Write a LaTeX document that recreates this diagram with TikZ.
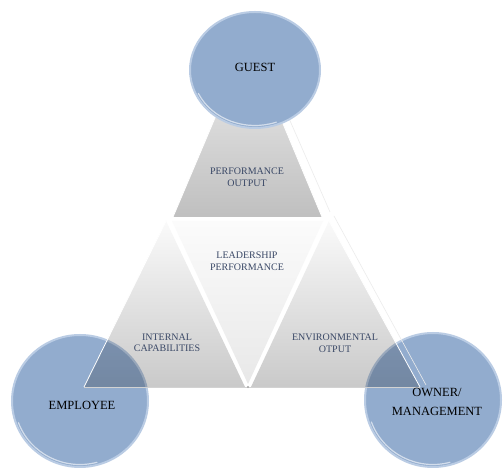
\documentclass[tikz,border=0pt]{standalone}
\usepackage{fontspec}
\setmainfont{Liberation Serif}
\usetikzlibrary{shapes.geometric}
\definecolor{circblue}{RGB}{146,172,206}
\definecolor{circrim}{RGB}{186,204,228}
\definecolor{labelblue}{RGB}{58,72,102}
\tikzset{
  bigcirc/.style={ellipse, fill=circblue, draw=circrim, line width=2pt, inner sep=0pt},
  circlabel/.style={font=\fontsize{12.5}{19}\selectfont, text=black, align=center},
  tilelabel/.style={font=\fontsize{10}{11.5}\selectfont, text=labelblue, align=center},
  tileedge/.style={draw=white, line width=0.8pt},
  gloss/.style={draw=white, opacity=0.6, line width=1.2pt, line cap=round}
}
\begin{document}
\begin{tikzpicture}[x=1pt,y=1pt]
\useasboundingbox (0,0) rectangle (503,470);
\fill[white] (0,0) rectangle (503,470);
% bottom circles (under the triangle)
\node[bigcirc, minimum width=136pt, minimum height=132pt] (employee) at (80,69) {};
\node[bigcirc, minimum width=136pt, minimum height=134pt] (owner) at (433,70) {};
\draw[gloss] ([shift={(200:65.5 and 63.5)}]employee.center) arc[start angle=200, end angle=285, x radius=65.5, y radius=63.5];
\draw[gloss] ([shift={(200:65.5 and 64.5)}]owner.center) arc[start angle=200, end angle=285, x radius=65.5, y radius=64.5];
% tiles
\begin{scope}[blend mode=multiply]
  \shade[top color=gray!12, bottom color=gray!50] (248,430) -- (173,253) -- (322,253) -- cycle;
  \shade[top color=gray!3, bottom color=gray!18] (172,249) -- (323,249) -- (248,86) -- cycle;
  \shade[top color=gray!4, bottom color=gray!42] (166,249) -- (84,83) -- (245,83) -- cycle;
  \shade[top color=gray!4, bottom color=gray!42] (329,249) -- (251,83) -- (420,83) -- cycle;
\end{scope}
\draw[tileedge] (173,253) -- (248,430) -- (322,253);
\draw[tileedge] (166,249) -- (84,83);
\draw[tileedge] (329,249) -- (420,83);
\draw[gray!35, line width=0.6pt] (84,83) -- (420,83);
\draw[white!85!gray, line width=0.6pt] (252,436) -- (330,258);
\draw[white!85!gray, line width=0.6pt] (334,254) -- (426,85);
\fill[gray!70] (248,83) circle (1.2pt);
% guest circle on top
\node[bigcirc, minimum width=130pt, minimum height=116pt] (guest) at (255,400) {};
\draw[gloss] ([shift={(205:62.5 and 55.5)}]guest.center) arc[start angle=205, end angle=290, x radius=62.5, y radius=55.5];
% circle labels
\node[circlabel] (guestlbl) at (255,403) {GUEST};
\node[circlabel] (emplbl) at (82,65) {EMPLOYEE};
\node[circlabel] (ownlbl) at (437,68) {OWNER/\\MANAGEMENT};
% tile labels
\node[tilelabel] (perf) at (247,293) {PERFORMANCE\\OUTPUT};
\node[tilelabel] (lead) at (247,209) {LEADERSHIP\\PERFORMANCE};
\node[tilelabel] (intcap) at (167,127) {INTERNAL\\CAPABILITIES};
\node[tilelabel] (env) at (335,127) {ENVIRONMENTAL\\OTPUT};
\end{tikzpicture}
\end{document}
